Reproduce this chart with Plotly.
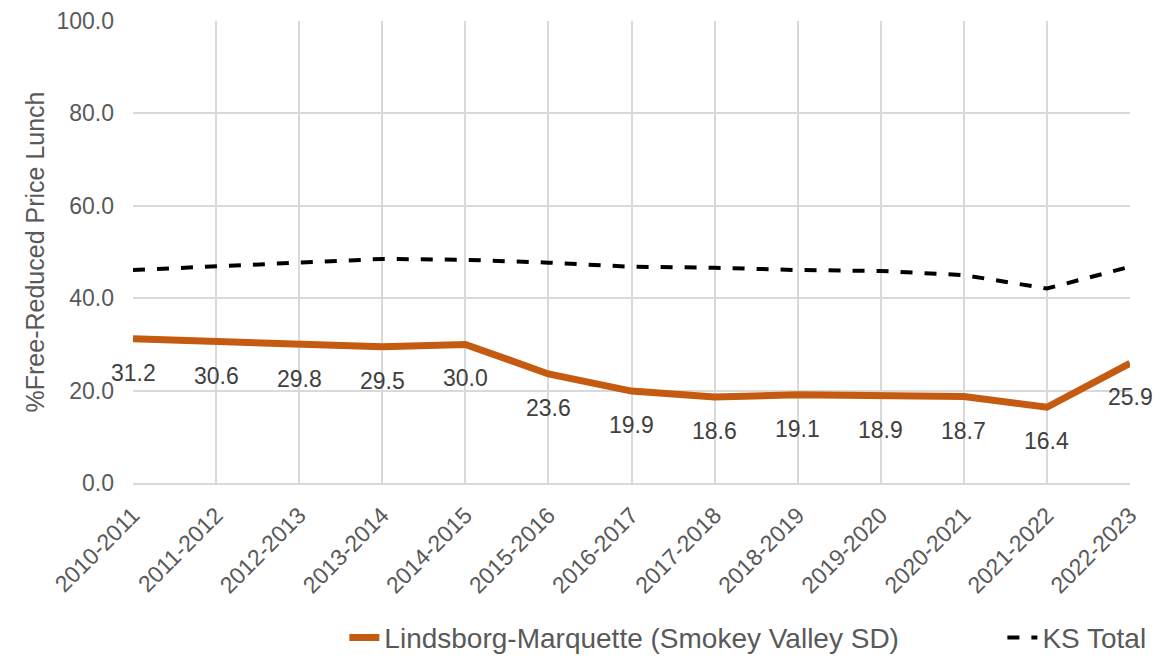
import plotly.graph_objects as go

YEARS = [
    "2010-2011", "2011-2012", "2012-2013", "2013-2014", "2014-2015",
    "2015-2016", "2016-2017", "2017-2018", "2018-2019", "2019-2020",
    "2020-2021", "2021-2022", "2022-2023",
]
DISTRICT = [31.2, 30.6, 29.8, 29.5, 30.0, 23.6, 19.9, 18.6, 19.1, 18.9, 18.7, 16.4, 25.9]
KS_TOTAL = [46.1, 46.9, 47.8, 48.5, 48.3, 47.7, 46.8, 46.6, 46.1, 45.9, 45.0, 42.1, 46.8]

_ORANGE = "#C55A11"
_GRID = "#D9D9D9"
_TEXT = "#595959"
_FONT = "Liberation Sans, Arial, sans-serif"

fig = go.Figure()
fig.add_trace(
    go.Scatter(
        x=YEARS,
        y=DISTRICT,
        mode="lines",
        line=dict(color=_ORANGE, width=7),
        name="Lindsborg-Marquette (Smokey Valley SD)",
        legend="legend",
    )
)
fig.add_trace(
    go.Scatter(
        x=YEARS,
        y=KS_TOTAL,
        mode="lines",
        line=dict(color="black", width=4, dash="dash"),
        name="KS Total",
        legend="legend2",
    )
)

# data labels sit under the orange line
for year, value in zip(YEARS, DISTRICT):
    fig.add_annotation(
        x=year,
        y=value,
        text=f"{value:.1f}",
        showarrow=False,
        yshift=-34,
        font=dict(size=23, color="#404040", family=_FONT),
    )

# two separate legends so each entry can sit where the reference puts it
_legend_common = dict(
    orientation="h",
    xanchor="left",
    yanchor="middle",
    y=-0.335,
    font=dict(size=28, color=_TEXT),
)

# page body has an 8px margin, so the figure is 8px smaller than the window
fig.update_layout(
    width=1165,
    height=652,
    plot_bgcolor="white",
    paper_bgcolor="white",
    font=dict(family=_FONT, color=_TEXT, size=23),
    margin=dict(l=125, r=43, t=13, b=177, autoexpand=False),
    showlegend=True,
    legend=dict(x=0.212, **_legend_common),
    legend2=dict(x=0.872, **_legend_common),
    xaxis=dict(
        range=[0, len(YEARS) - 1],
        tickangle=-45,
        showgrid=True,
        gridcolor=_GRID,
        gridwidth=1.5,
        showline=True,
        linecolor=_GRID,
        linewidth=1.5,
        ticks="",
        ticklabelstandoff=8,
        automargin=False,
        tickfont=dict(size=23, color=_TEXT),
    ),
    yaxis=dict(
        range=[0, 100],
        dtick=20,
        tickformat=".1f",
        showgrid=True,
        gridcolor=_GRID,
        gridwidth=1.5,
        zeroline=False,
        ticks="",
        ticklabelstandoff=18,
        automargin=False,
        title=dict(text="%Free-Reduced Price Lunch", font=dict(size=25, color=_TEXT), standoff=4),
        tickfont=dict(size=23, color=_TEXT),
    ),
)

fig.write_html("out.html")
